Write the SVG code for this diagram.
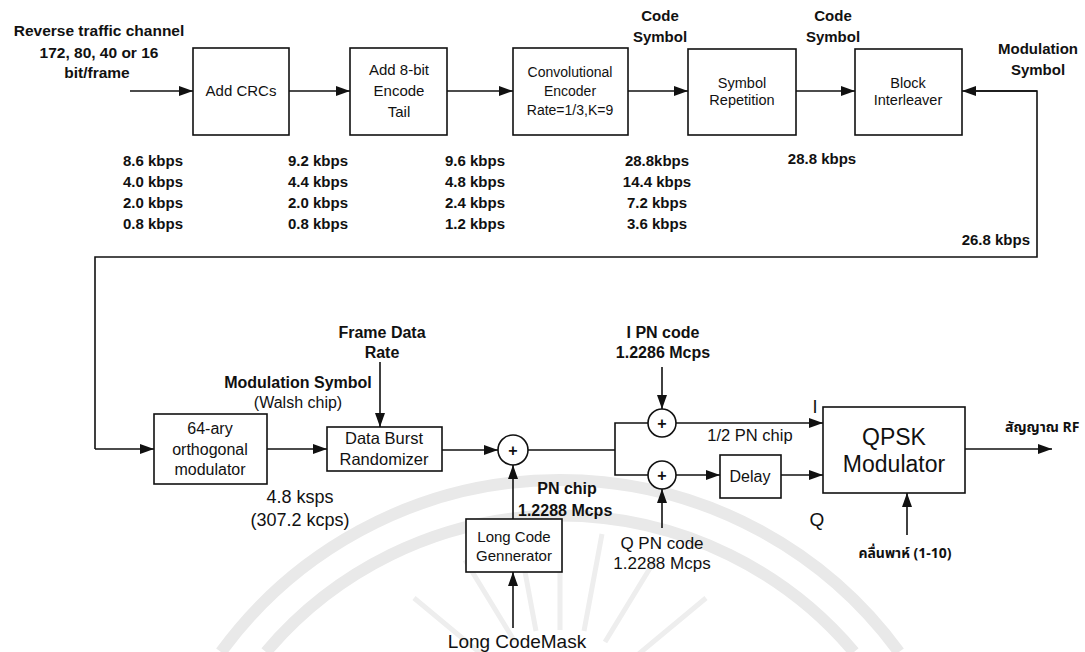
<svg xmlns="http://www.w3.org/2000/svg" width="1085" height="652" viewBox="0 0 1085 652">
<defs>
<marker id="ah" viewBox="0 0 14 10" refX="14" refY="5" markerWidth="14" markerHeight="10" markerUnits="userSpaceOnUse" orient="auto">
<path d="M0,0 L14,5 L0,10 z" fill="#111"/>
</marker>
</defs>
<style>
text{font-family:"Liberation Sans",Arial,"DejaVu Sans",sans-serif;fill:#111;text-anchor:middle}
.b{font-weight:bold}
.box{fill:#fff;stroke:#111;stroke-width:1.6}
.ln{fill:none;stroke:#111;stroke-width:1.6}
.ar{fill:none;stroke:#111;stroke-width:1.6;marker-end:url(#ah)}
.wm{fill:none;stroke:#e9e9e9;stroke-width:12}
.wr{fill:none;stroke:#eeeeee;stroke-width:5}
.th{font-family:"Noto Sans Thai","Loma","Garuda","Norasi","DejaVu Sans",sans-serif}
</style>
<rect width="1085" height="652" fill="#fff"/>
<g id="watermark">
<path class="wm" d="M221,652 A420,420 0 0 1 899,652"/>
<path class="wm" d="M266,652 A385,385 0 0 1 854,652"/>
<path class="wr" d="M475,689 L381,655 M491,662 L414,598 M515,642 L465,560 M536,631 L518,534 M560,630 L560,530 M584,631 L602,534 M605,642 L655,560 M629,662 L706,598 M645,689 L739,655"/>
</g>
<g id="connectors">
<line class="ar" x1="130" y1="91" x2="193" y2="91"/>
<line class="ar" x1="289" y1="91" x2="350" y2="91"/>
<line class="ar" x1="447" y1="91" x2="513" y2="91"/>
<line class="ar" x1="628" y1="91" x2="688" y2="91"/>
<line class="ar" x1="796" y1="91" x2="855" y2="91"/>
<polyline class="ln" points="95,449 95,257 1037,257 1037,91 975,91"/>
<line class="ar" x1="1037" y1="91" x2="962" y2="91"/>
<line class="ar" x1="95" y1="449" x2="154" y2="449"/>
<line class="ar" x1="267" y1="449" x2="327" y2="449"/>
<line class="ar" x1="380" y1="362" x2="380" y2="427"/>
<line class="ar" x1="442" y1="450" x2="498" y2="450"/>
<line class="ar" x1="513" y1="519" x2="513" y2="465"/>
<line class="ar" x1="513" y1="628" x2="513" y2="572"/>
<polyline class="ln" points="528,450 615,450"/>
<polyline class="ln" points="648,423 615,423 615,475 648,475"/>
<line class="ar" x1="662" y1="367" x2="662" y2="409"/>
<line class="ar" x1="662" y1="528" x2="662" y2="489"/>
<line class="ar" x1="676" y1="423" x2="823" y2="423"/>
<line class="ar" x1="676" y1="475" x2="720" y2="475"/>
<line class="ar" x1="781" y1="475" x2="823" y2="475"/>
<line class="ar" x1="965" y1="449" x2="1052" y2="449"/>
<line class="ar" x1="907" y1="535" x2="907" y2="493"/>
</g>
<g id="add-crcs">
<rect class="box" x="193" y="48" width="96" height="87"/>
<text x="241" y="96" font-size="15">Add CRCs</text>
</g>
<g id="add-tail">
<rect class="box" x="350" y="48" width="97" height="87"/>
<text x="399" y="75" font-size="15">Add 8-bit</text>
<text x="399" y="96" font-size="15">Encode</text>
<text x="399" y="117" font-size="15">Tail</text>
</g>
<g id="conv-encoder">
<rect class="box" x="513" y="48" width="115" height="87"/>
<text x="570" y="77" font-size="14">Convolutional</text>
<text x="570" y="96" font-size="14">Encoder</text>
<text x="570" y="115" font-size="14">Rate=1/3,K=9</text>
</g>
<g id="symbol-repetition">
<rect class="box" x="688" y="49" width="108" height="86"/>
<text x="742" y="88" font-size="14.5">Symbol</text>
<text x="742" y="105" font-size="14.5">Repetition</text>
</g>
<g id="block-interleaver">
<rect class="box" x="855" y="49" width="107" height="86"/>
<text x="908" y="88" font-size="14.5">Block</text>
<text x="908" y="105" font-size="14.5">Interleaver</text>
</g>
<g id="top-labels">
<text x="99" y="36" class="b" font-size="15.5">Reverse traffic channel</text>
<text x="99" y="58" class="b" font-size="15.5">172, 80, 40 or 16</text>
<text x="97" y="78" class="b" font-size="15.5">bit/frame</text>
<text x="660" y="21" class="b" font-size="15">Code</text>
<text x="660" y="42" class="b" font-size="15">Symbol</text>
<text x="833" y="21" class="b" font-size="15">Code</text>
<text x="833" y="42" class="b" font-size="15">Symbol</text>
<text x="1038" y="54" class="b" font-size="15">Modulation</text>
<text x="1038" y="75" class="b" font-size="15">Symbol</text>
</g>
<g id="rates" font-size="15">
<text class="b" x="153" y="166">8.6 kbps</text>
<text class="b" x="153" y="187">4.0 kbps</text>
<text class="b" x="153" y="208">2.0 kbps</text>
<text class="b" x="153" y="229">0.8 kbps</text>
<text class="b" x="318" y="166">9.2 kbps</text>
<text class="b" x="318" y="187">4.4 kbps</text>
<text class="b" x="318" y="208">2.0 kbps</text>
<text class="b" x="318" y="229">0.8 kbps</text>
<text class="b" x="475" y="166">9.6 kbps</text>
<text class="b" x="475" y="187">4.8 kbps</text>
<text class="b" x="475" y="208">2.4 kbps</text>
<text class="b" x="475" y="229">1.2 kbps</text>
<text class="b" x="657" y="166">28.8kbps</text>
<text class="b" x="657" y="187">14.4 kbps</text>
<text class="b" x="657" y="208">7.2 kbps</text>
<text class="b" x="657" y="229">3.6 kbps</text>
<text class="b" x="822" y="164">28.8 kbps</text>
<text class="b" x="1030" y="245" style="text-anchor:end">26.8 kbps</text>
</g>
<g id="orthogonal-modulator">
<rect class="box" x="154" y="414" width="113" height="70"/>
<text x="210" y="434" font-size="16">64-ary</text>
<text x="210" y="455" font-size="16">orthogonal</text>
<text x="210" y="475" font-size="16">modulator</text>
</g>
<g id="data-burst-randomizer">
<rect class="box" x="327" y="427" width="115" height="44"/>
<text x="384" y="444" font-size="16.5">Data Burst</text>
<text x="384" y="465" font-size="16.5">Randomizer</text>
</g>
<g id="sum-main">
<circle class="box" cx="513" cy="450" r="15"/>
<text x="513" y="456" font-size="16" class="b">+</text>
</g>
<g id="long-code-generator">
<rect class="box" x="466" y="519" width="96" height="53"/>
<text x="514" y="542" font-size="15">Long Code</text>
<text x="514" y="561" font-size="15">Gennerator</text>
</g>
<g id="sum-i">
<circle class="box" cx="662" cy="423" r="14"/>
<text x="662" y="429" font-size="16" class="b">+</text>
</g>
<g id="sum-q">
<circle class="box" cx="662" cy="475" r="14"/>
<text x="662" y="481" font-size="16" class="b">+</text>
</g>
<g id="delay">
<rect class="box" x="720" y="455" width="61" height="43"/>
<text x="750" y="482" font-size="16">Delay</text>
</g>
<g id="qpsk-modulator">
<rect class="box" x="823" y="407" width="142" height="86"/>
<text x="894" y="445" font-size="23">QPSK</text>
<text x="894" y="472" font-size="23">Modulator</text>
</g>
<g id="bottom-labels">
<text x="382" y="338" font-size="16" class="b">Frame Data</text>
<text x="382" y="358" font-size="16" class="b">Rate</text>
<text x="663" y="338" font-size="16" class="b">I PN code</text>
<text x="663" y="358" font-size="16" class="b">1.2286 Mcps</text>
<text x="298" y="388" font-size="16" class="b">Modulation Symbol</text>
<text x="298" y="408" font-size="16">(Walsh chip)</text>
<text x="300" y="503" font-size="18">4.8 ksps</text>
<text x="300" y="526" font-size="18">(307.2 kcps)</text>
<text x="567" y="494" font-size="16" class="b">PN chip</text>
<text x="518" y="516" font-size="16" class="b" style="text-anchor:start">1.2288 Mcps</text>
<text x="517" y="648" font-size="19">Long CodeMask</text>
<text x="662" y="549" font-size="17">Q PN code</text>
<text x="662" y="569" font-size="17">1.2288 Mcps</text>
<text x="750" y="441" font-size="16.5">1/2 PN chip</text>
<text x="815" y="413" font-size="18">I</text>
<text x="817" y="526" font-size="19">Q</text>
<text x="1005" y="432" font-size="14" class="th b" style="text-anchor:start">สัญญาณ RF</text>
<text x="905" y="558" font-size="14" class="th b">คลื่นพาห์ (1-10)</text>
</g>
</svg>
